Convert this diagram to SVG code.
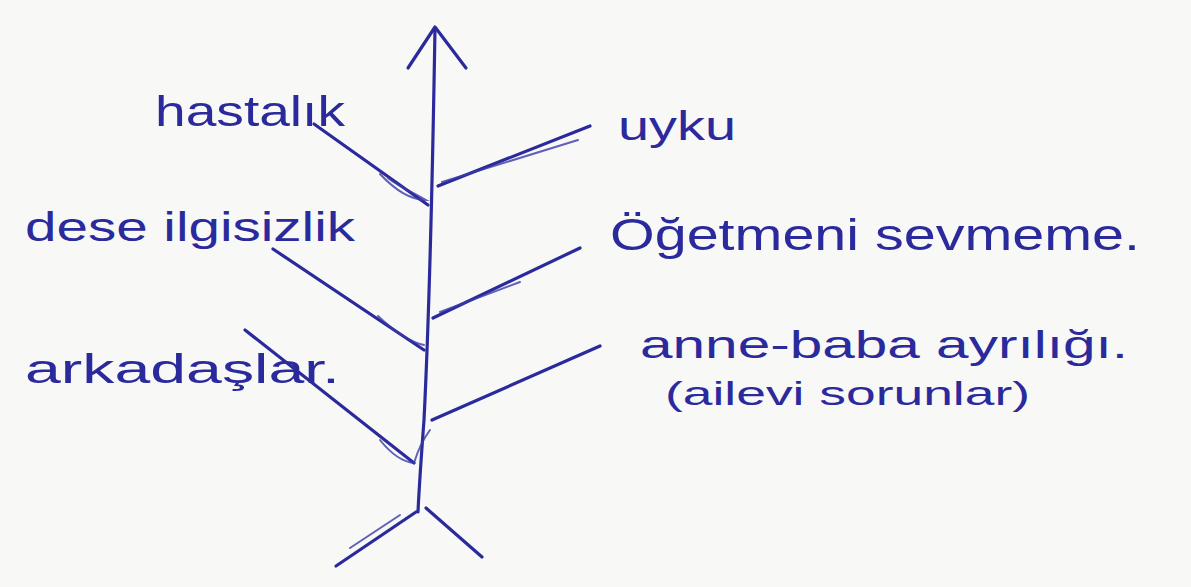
<svg xmlns="http://www.w3.org/2000/svg" width="1191" height="587" viewBox="0 0 1191 587">
  <style>
    .ink { fill: none; stroke: #2b2a9c; stroke-width: 3.2; stroke-linecap: round; stroke-linejoin: round; }
    .thin { fill: none; stroke: #3a39a8; stroke-width: 2; stroke-linecap: round; opacity: 0.8; }
    .lbl { fill: #2b2a9c; font-family: "Liberation Sans", "DejaVu Sans", sans-serif; font-weight: normal; }
  </style>
  <rect x="0" y="0" width="1191" height="587" fill="#f8f8f6"/>

  <g id="connectors">
    <!-- spine -->
    <path class="ink" d="M435,28 C433,150 430,300 424,420 C421,460 419,490 418,512"/>
    <!-- top arrowhead -->
    <path class="ink" d="M408,68 L435,27 L466,68"/>
    <!-- tail fins -->
    <path class="ink" d="M416,512 L336,566"/>
    <path class="thin" d="M400,515 L350,548"/>
    <path class="ink" d="M426,508 L482,557"/>
    <!-- left branches -->
    <path class="ink" d="M314,124 L428,205"/>
    <path class="thin" d="M380,174 C395,190 410,200 426,200 C412,192 398,186 388,178"/>
    <path class="ink" d="M273,249 L424,350"/>
    <path class="thin" d="M378,316 C395,332 410,342 424,345"/>
    <path class="ink" d="M245,330 L414,463"/>
    <path class="thin" d="M380,440 C392,455 404,462 414,463 C418,450 424,438 430,430"/>
    <!-- right branches -->
    <path class="ink" d="M590,126 L438,186"/>
    <path class="thin" d="M578,140 L442,182"/>
    <path class="ink" d="M580,248 L433,318"/>
    <path class="thin" d="M520,282 L440,312"/>
    <path class="ink" d="M600,346 L432,420"/>
  </g>

  <g id="node-hastalik">
    <text class="lbl" x="155" y="126" font-size="42" textLength="190" lengthAdjust="spacingAndGlyphs">hastalık</text>
  </g>
  <g id="node-uyku">
    <text class="lbl" x="618" y="140" font-size="40" textLength="118" lengthAdjust="spacingAndGlyphs">uyku</text>
  </g>
  <g id="node-dese">
    <text class="lbl" x="25" y="241" font-size="40" textLength="330" lengthAdjust="spacingAndGlyphs">dese ilgisizlik</text>
  </g>
  <g id="node-ogretmen">
    <text class="lbl" x="610" y="250" font-size="44" textLength="530" lengthAdjust="spacingAndGlyphs">Öğetmeni sevmeme.</text>
  </g>
  <g id="node-arkadas">
    <text class="lbl" x="25" y="383" font-size="40" textLength="315" lengthAdjust="spacingAndGlyphs">arkadaşlar.</text>
  </g>
  <g id="node-anne-baba">
    <text class="lbl" x="640" y="358" font-size="38" textLength="488" lengthAdjust="spacingAndGlyphs">anne-baba ayrılığı.</text>
    <text class="lbl" x="665" y="405" font-size="34" textLength="365" lengthAdjust="spacingAndGlyphs">(ailevi sorunlar)</text>
  </g>
</svg>
